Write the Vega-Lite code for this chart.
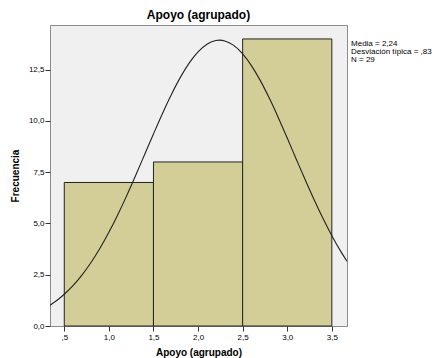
{
  "$schema": "https://vega.github.io/schema/vega-lite/v6.json",
  "width": 297,
  "height": 301,
  "autosize": "none",
  "padding": {"left": 50, "top": 25, "right": 85, "bottom": 32},
  "background": "white",
  "config": {
    "view": {"fill": "#f0f0f0", "stroke": "#8c8c8c", "strokeWidth": 1},
    "font": "Liberation Sans"
  },
  "title": {
    "text": "Apoyo (agrupado)",
    "fontSize": 12,
    "fontWeight": "bold",
    "font": "Liberation Sans",
    "color": "#000000",
    "offset": 3,
    "anchor": "middle"
  },
  "datasets": {
    "bars": [
      {"lo": 0.5, "hi": 1.5, "freq": 7},
      {"lo": 1.5, "hi": 2.5, "freq": 8},
      {"lo": 2.5, "hi": 3.5, "freq": 14}
    ],
    "curve": [
      {"x": 0.34, "y": 1.015}, {"x": 0.4, "y": 1.194}, {"x": 0.5, "y": 1.549}, {"x": 0.6, "y": 1.979},
      {"x": 0.7, "y": 2.494}, {"x": 0.8, "y": 3.095}, {"x": 0.9, "y": 3.788}, {"x": 1.0, "y": 4.567},
      {"x": 1.1, "y": 5.428}, {"x": 1.2, "y": 6.358}, {"x": 1.3, "y": 7.341}, {"x": 1.4, "y": 8.354},
      {"x": 1.5, "y": 9.368}, {"x": 1.6, "y": 10.355}, {"x": 1.7, "y": 11.282}, {"x": 1.8, "y": 12.113},
      {"x": 1.9, "y": 12.818}, {"x": 2.0, "y": 13.37}, {"x": 2.1, "y": 13.743}, {"x": 2.2, "y": 13.924},
      {"x": 2.24, "y": 13.94}, {"x": 2.3, "y": 13.904}, {"x": 2.4, "y": 13.684}, {"x": 2.5, "y": 13.273},
      {"x": 2.6, "y": 12.688}, {"x": 2.7, "y": 11.955}, {"x": 2.8, "y": 11.102}, {"x": 2.9, "y": 10.161},
      {"x": 3.0, "y": 9.167}, {"x": 3.1, "y": 8.149}, {"x": 3.2, "y": 7.141}, {"x": 3.3, "y": 6.167},
      {"x": 3.4, "y": 5.25}, {"x": 3.5, "y": 4.404}, {"x": 3.6, "y": 3.641}, {"x": 3.67, "y": 3.16}
    ],
    "stats": [
      {"x": 3.715, "y": 13.73, "label": "Media = 2,24"},
      {"x": 3.715, "y": 13.35, "label": "Desviación típica = ,83"},
      {"x": 3.715, "y": 12.97, "label": "N = 29"}
    ]
  },
  "layer": [
    {
      "data": {"name": "bars"},
      "mark": {"type": "rect", "fill": "#d3ce98", "stroke": "#222222", "strokeWidth": 1},
      "encoding": {
        "x": {
          "field": "lo", "type": "quantitative",
          "scale": {"domain": [0.34, 3.67], "nice": false, "zero": false},
          "axis": {
            "title": "Apoyo (agrupado)",
            "titleFontSize": 10, "titleFontWeight": "bold", "titleColor": "#000000", "titleFont": "Liberation Sans",
            "titlePadding": 6,
            "values": [0.5, 1.0, 1.5, 2.0, 2.5, 3.0, 3.5],
            "labelExpr": "replace(replace(format(datum.value, '.1f'), '.', ','), /^0/, '')",
            "labelFontSize": 8, "labelColor": "#000000", "labelFont": "Liberation Sans",
            "tickColor": "#333333", "tickSize": 5, "labelPadding": 2,
            "domain": false, "grid": false
          }
        },
        "x2": {"field": "hi"},
        "y": {
          "field": "freq", "type": "quantitative",
          "scale": {"domain": [0, 14.68], "nice": false},
          "axis": {
            "title": "Frecuencia",
            "titleFontSize": 10, "titleFontWeight": "bold", "titleColor": "#000000", "titleFont": "Liberation Sans",
            "titlePadding": 8,
            "values": [0, 2.5, 5, 7.5, 10, 12.5],
            "labelExpr": "replace(format(datum.value, '.1f'), '.', ',')",
            "labelFontSize": 8, "labelColor": "#000000", "labelFont": "Liberation Sans",
            "tickColor": "#333333", "tickSize": 5, "labelPadding": 1,
            "domain": false, "grid": false
          }
        },
        "y2": {"datum": 0}
      }
    },
    {
      "data": {"name": "curve"},
      "mark": {"type": "line", "color": "#222222", "strokeWidth": 1.1, "interpolate": "monotone", "clip": true},
      "encoding": {
        "x": {"field": "x", "type": "quantitative"},
        "y": {"field": "y", "type": "quantitative"}
      }
    },
    {
      "data": {"name": "stats"},
      "mark": {"type": "text", "align": "left", "baseline": "middle", "fontSize": 8, "font": "Liberation Sans", "fill": "#000000"},
      "encoding": {
        "x": {"field": "x", "type": "quantitative"},
        "y": {"field": "y", "type": "quantitative"},
        "text": {"field": "label"}
      }
    }
  ]
}
